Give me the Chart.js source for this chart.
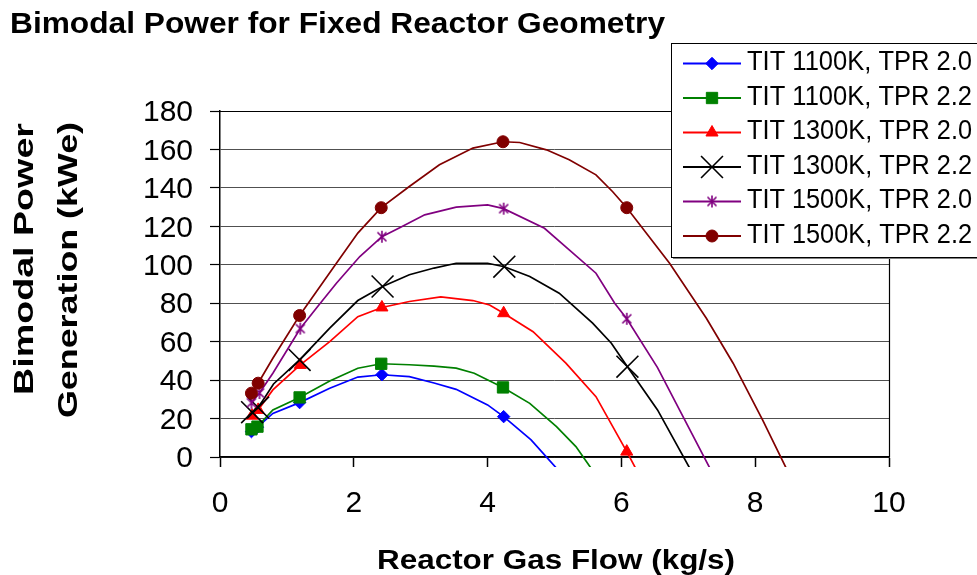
<!DOCTYPE html>
<html><head><meta charset="utf-8">
<script src="https://cdn.jsdelivr.net/npm/chart.js@4.4.1/dist/chart.umd.min.js"></script>
<style>html,body{margin:0;padding:0;background:#fff;overflow:hidden}canvas{display:block}</style>
</head><body>
<canvas id="c" width="977" height="575"></canvas>
<script>
// ---- data ----
const chartTitle = 'Bimodal Power for Fixed Reactor Geometry';
const xAxisTitle = 'Reactor Gas Flow (kg/s)';
const yAxisTitleLines = ['Bimodal Power', 'Generation (kWe)'];
const seriesNames = ['TIT 1100K, TPR 2.0','TIT 1100K, TPR 2.2','TIT 1300K, TPR 2.0','TIT 1300K, TPR 2.2','TIT 1500K, TPR 2.0','TIT 1500K, TPR 2.2'];
const seriesColors = ['#0000FF','#008000','#FF0000','#000000','#800080','#800000'];
const markerStyles = ['rectRot','rect','triangle','crossRot','asterisk','circle'];
const markerSizes = [6.2, 8, 7, 15.5, 7, 6];
const xRange = [0, 10];
const yRange = [0, 180];
const xStep = 2;
const yStep = 20;

// marker points [x, y]
const markers1100_20 = [[0.47,13.2],[0.56,15.5],[1.19,28.3],[2.42,42.8],[4.24,21.0]];
const markers1100_22 = [[0.47,14.4],[0.56,15.8],[1.19,31.0],[2.41,48.5],[4.23,36.2]];
const markers1300_20 = [[0.48,21.5],[0.57,24.5],[1.20,47.9],[2.42,77.8],[4.24,74.8],[6.08,2.8]];
const markers1300_22 = [[0.48,23.3],[0.57,25.7],[1.19,50.5],[2.43,88.7],[4.25,99.0],[6.09,47.0]];
const markers1500_20 = [[0.47,28.2],[0.59,33.3],[1.20,66.8],[2.42,114.6],[4.24,129.2],[6.08,71.9]];
const markers1500_22 = [[0.47,33.2],[0.57,38.4],[1.19,73.6],[2.41,129.7],[4.23,164.0],[6.08,129.7]];

// smoothed curve vertices [x, y]
const curve1100_20 = [[0.47,13.2],[0.56,15.5],[0.79,22.7],[1.19,28.3],[1.64,35.8],[2.06,41.6],[2.42,42.8],[2.83,41.8],[3.2,38.5],[3.53,35.2],[4.0,27.1],[4.24,21.0],[4.65,8.9],[5.06,-7]];
const curve1100_22 = [[0.47,14.4],[0.56,15.8],[0.79,24.5],[1.19,31.0],[1.64,39.5],[2.06,46.2],[2.41,48.5],[2.83,48.0],[3.2,47.3],[3.53,46.2],[3.8,43.6],[4.23,36.2],[4.63,27.9],[5.03,15.8],[5.32,5.4],[5.57,-7]];
const curve1300_20 = [[0.48,21.5],[0.57,24.5],[0.79,34.9],[1.20,47.9],[1.64,60.0],[2.06,73.0],[2.42,77.8],[2.83,80.9],[3.3,83.3],[3.78,81.4],[4.03,79.1],[4.24,74.8],[4.68,65.2],[5.17,48.8],[5.62,31.4],[6.08,2.8],[6.23,-7]];
const curve1300_22 = [[0.48,23.3],[0.57,25.7],[0.8,38.0],[1.19,50.5],[1.64,67.0],[2.06,81.4],[2.43,88.7],[2.83,94.8],[3.2,98.3],[3.53,100.8],[4.0,100.8],[4.25,99.0],[4.63,93.9],[5.07,85.2],[5.57,69.6],[5.85,59.2],[6.09,47.0],[6.54,24.5],[7.04,-7]];
const curve1500_20 = [[0.47,28.2],[0.59,33.3],[0.79,43.6],[1.20,66.8],[1.46,78.3],[1.74,90.4],[2.09,104.3],[2.42,114.6],[2.7,119.5],[3.06,126.0],[3.53,130.0],[4.0,131.2],[4.24,129.2],[4.85,119.0],[5.22,107.8],[5.62,95.6],[5.9,80.0],[6.08,71.9],[6.54,46.5],[7.34,-7]];
const curve1500_22 = [[0.47,33.2],[0.57,38.4],[0.79,51.4],[1.19,73.6],[1.44,86.0],[1.74,100.8],[2.06,116.5],[2.41,129.7],[2.83,140.7],[3.28,152.0],[3.78,160.7],[4.23,164.0],[4.48,163.6],[4.88,159.8],[5.22,154.6],[5.62,146.8],[5.87,138.0],[6.08,129.7],[6.72,100.8],[7.27,72.2],[7.67,48.8],[8.11,19.3],[8.48,-7]];

const allMarkers = [markers1100_20, markers1100_22, markers1300_20, markers1300_22, markers1500_20, markers1500_22];
const allCurves = [curve1100_20, curve1100_22, curve1300_20, curve1300_22, curve1500_20, curve1500_22];

// ---- helpers ----
const FONT = "'Liberation Sans', Arial, Helvetica, sans-serif";
function makeAsterisk(color, size, lw){
  const c = document.createElement('canvas'); c.width = size; c.height = size;
  const g = c.getContext('2d'); g.strokeStyle = color; g.lineWidth = lw;
  const m = size/2, r = size/2 - 1, d = r*0.75;
  g.beginPath();
  g.moveTo(m, m-r); g.lineTo(m, m+r);
  g.moveTo(m-d, m-d); g.lineTo(m+d, m+d);
  g.moveTo(m+d, m-d); g.lineTo(m-d, m+d);
  g.stroke();
  return c;
}
function styleFor(i){
  if (markerStyles[i] === 'asterisk') return makeAsterisk(seriesColors[i], 14, 1.6);
  return markerStyles[i];
}
const pointStyles = seriesColors.map((c,i)=>styleFor(i));

function toPts(arr){ return arr.map(p=>({x:p[0], y:p[1]})); }

const datasets = [];
allCurves.forEach((cv,i)=>{
  datasets.push({
    label: seriesNames[i] + ' curve',
    data: toPts(cv),
    borderColor: seriesColors[i],
    borderWidth: 1.7,
    pointRadius: 0,
    showLine: true,
    tension: 0,
    clip: {left: 10, top: 10, right: 10, bottom: 10},
    order: 100 - 2*i
  });
  datasets.push({
    label: seriesNames[i],
    data: toPts(allMarkers[i]),
    showLine: false,
    pointStyle: pointStyles[i],
    pointRadius: markerSizes[i],
    pointHoverRadius: markerSizes[i],
    pointBackgroundColor: seriesColors[i],
    pointBorderColor: seriesColors[i],
    pointBorderWidth: markerStyles[i]==='crossRot' ? 1.6 : 1,
    clip: {left: 15, top: 15, right: 15, bottom: 15},
    order: 99 - 2*i
  });
});

function fitText(ctx, txt, font, x, y, w){
  ctx.font = font;
  const m = ctx.measureText(txt).width;
  ctx.save(); ctx.translate(x, y); ctx.scale(w/m, 1);
  ctx.textAlign = 'left'; ctx.textBaseline = 'alphabetic';
  ctx.fillText(txt, 0, 0); ctx.restore();
}
function fitTextVertical(ctx, txt, font, baseX, bottomY, len){
  ctx.font = font;
  const m = ctx.measureText(txt).width;
  ctx.save(); ctx.translate(baseX, bottomY); ctx.rotate(-Math.PI/2); ctx.scale(len/m, 1);
  ctx.textAlign = 'left'; ctx.textBaseline = 'alphabetic';
  ctx.fillText(txt, 0, 0); ctx.restore();
}
function drawMarker(ctx, i, x, y){
  const st = markerStyles[i], r = markerSizes[i], col = seriesColors[i];
  ctx.save(); ctx.fillStyle = col; ctx.strokeStyle = col; ctx.lineWidth = 1;
  ctx.beginPath();
  if (st === 'rectRot'){
    ctx.moveTo(x-r,y); ctx.lineTo(x,y-r); ctx.lineTo(x+r,y); ctx.lineTo(x,y+r); ctx.closePath(); ctx.fill(); ctx.stroke();
  } else if (st === 'rect'){
    const s = Math.SQRT1_2*r; ctx.rect(x-s,y-s,2*s,2*s); ctx.fill(); ctx.stroke();
  } else if (st === 'triangle'){
    ctx.moveTo(x, y-r); ctx.lineTo(x+0.866*r, y+0.5*r); ctx.lineTo(x-0.866*r, y+0.5*r); ctx.closePath(); ctx.fill(); ctx.stroke();
  } else if (st === 'crossRot'){
    const s = Math.SQRT1_2*r; ctx.lineWidth = 1.6;
    ctx.moveTo(x-s,y-s); ctx.lineTo(x+s,y+s); ctx.moveTo(x+s,y-s); ctx.lineTo(x-s,y+s); ctx.stroke();
  } else if (st === 'circle'){
    ctx.arc(x,y,r,0,Math.PI*2); ctx.fill(); ctx.stroke();
  } else {
    const img = pointStyles[i]; ctx.drawImage(img, x-img.width/2, y-img.height/2);
  }
  ctx.restore();
}

const decorPlugin = {
  id: 'decor',
  afterDatasetsDraw(chart){
    const ctx = chart.ctx, a = chart.chartArea;
    ctx.save();
    ctx.strokeStyle = '#000'; ctx.lineWidth = 1.2;
    ctx.beginPath();
    ctx.moveTo(a.left, a.top + 0.5); ctx.lineTo(a.right + 0.5, a.top + 0.5);
    ctx.lineTo(a.right + 0.5, a.bottom);
    ctx.stroke();
    ctx.restore();
  },
  afterDraw(chart){
    const ctx = chart.ctx;
    ctx.save();
    ctx.fillStyle = '#000';
    // chart title
    fitText(ctx, chartTitle, "bold 29px " + FONT, 10, 33, 655);
    // x axis title
    fitText(ctx, xAxisTitle, "bold 27px " + FONT, 377, 568.5, 358);
    // y axis title (two lines)
    fitTextVertical(ctx, yAxisTitleLines[0], "bold 28px " + FONT, 33, 395, 272);
    fitTextVertical(ctx, yAxisTitleLines[1], "bold 28px " + FONT, 76.5, 418, 296);

    // legend
    const lx = 671, ly = 43, lw = 330, lh = 214;
    ctx.fillStyle = '#808080'; ctx.fillRect(lx+2, ly+2, lw, lh);
    ctx.fillStyle = '#fff'; ctx.fillRect(lx, ly, lw, lh);
    ctx.strokeStyle = '#000'; ctx.lineWidth = 1; ctx.strokeRect(lx+0.5, ly+0.5, lw, lh);
    seriesNames.forEach((nm,i)=>{
      const y = 63.5 + i*34.5;
      ctx.strokeStyle = seriesColors[i]; ctx.lineWidth = 2;
      ctx.beginPath(); ctx.moveTo(683, y); ctx.lineTo(741, y); ctx.stroke();
      drawMarker(ctx, i, 712, y);
      ctx.fillStyle = '#000';
      fitText(ctx, nm, "27.5px " + FONT, 747, y + 6.5, 225);
    });
    ctx.restore();
  }
};

new Chart(document.getElementById('c'), {
  type: 'scatter',
  data: { datasets },
  options: {
    responsive: false,
    animation: false,
    devicePixelRatio: 1,
    layout: { padding: { left: 0, right: 88, top: 111, bottom: 0 } },
    plugins: { legend: { display: false }, tooltip: { enabled: false }, title: { display: false } },
    scales: {
      x: {
        type: 'linear', min: xRange[0], max: xRange[1],
        afterFit: s => { s.height = 118; },
        ticks: { stepSize: xStep, autoSkip: false, color: '#000', font: { family: FONT, size: 30 }, padding: 19, maxRotation: 0 },
        grid: { drawOnChartArea: false, drawTicks: true, tickLength: 10, tickColor: '#000', tickWidth: 1.5 },
        border: { color: '#000', width: 1.8 }
      },
      y: {
        type: 'linear', min: yRange[0], max: yRange[1],
        afterFit: s => { s.width = 220; },
        ticks: { stepSize: yStep, autoSkip: false, color: '#000', font: { family: FONT, size: 30 }, padding: 17, labelOffset: 2 },
        grid: { color: '#505050', lineWidth: 1, drawTicks: true, tickLength: 10, tickColor: '#000', tickWidth: 1.2 },
        border: { color: '#000', width: 1.5 }
      }
    }
  },
  plugins: [decorPlugin]
});
</script>
</body></html>
